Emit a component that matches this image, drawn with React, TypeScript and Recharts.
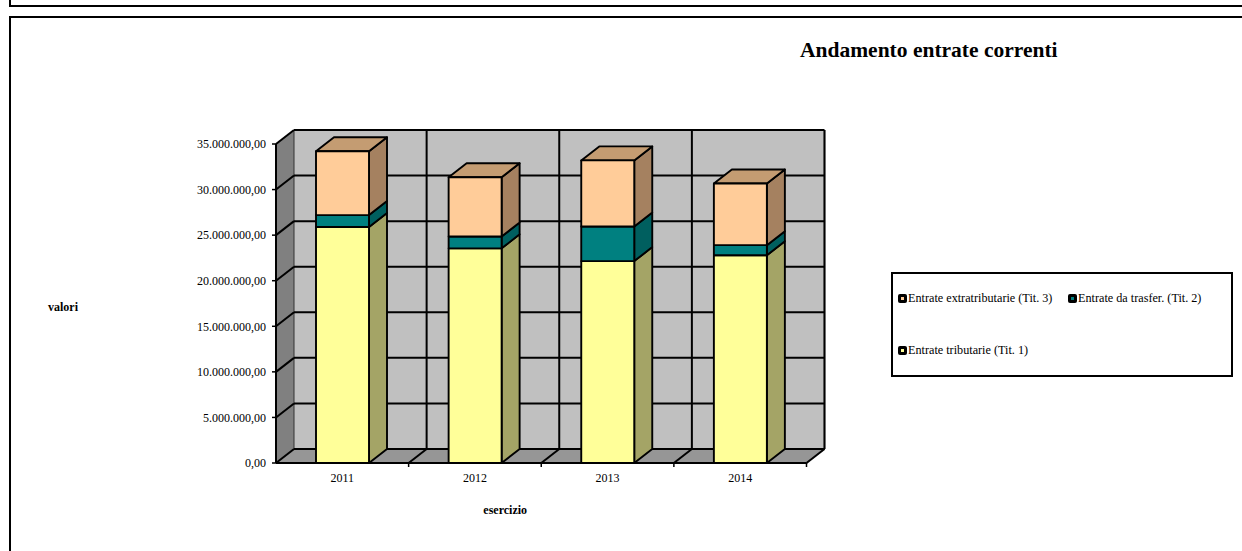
import { BarChart, Bar, XAxis, YAxis, CartesianGrid, Legend } from 'recharts';

const years = ['2011', '2012', '2013', '2014'];
const tributarie = [25900000, 23550000, 22150000, 22800000];
const trasferimenti = [1300000, 1300000, 3800000, 1100000];
const extratributarie = [7000000, 6500000, 7250000, 6770000];
const valueTicks = [0, 5000000, 10000000, 15000000, 20000000, 25000000, 30000000, 35000000];

const rows = years.map((year, i) => ({
    year,
    tributarie: tributarie[i],
    trasferimenti: trasferimenti[i],
    extratributarie: extratributarie[i],
}));

const FONT = '"Liberation Serif", serif';
// front plane of the plot, and the offset of the back plane from it
const PLOT = { left: 276, top: 144, right: 806.5, bottom: 463 };
const DX = 18;
const DY = -14;
const CHART_W = 1242;
const CHART_H = 551;

const formatValue = (v: number) =>
    v === 0 ? '0,00' : `${String(v).replace(/\B(?=(\d{3})+$)/g, '.')},00`;

// side and top faces of one stacked block
const block3d = (sideColor: string, topColor?: string) => (props: any) => {
    const { x, y, width, height, fill } = props;
    const r = x + width;
    return (
        <g stroke="#000" strokeWidth={1.9} strokeLinejoin="round">
            <polygon
                fill={sideColor}
                points={`${r},${y} ${r + DX},${y + DY} ${r + DX},${y + height + DY} ${r},${y + height}`}
            />
            {topColor && (
                <polygon
                    fill={topColor}
                    points={`${x},${y} ${x + DX},${y + DY} ${r + DX},${y + DY} ${r},${y}`}
                />
            )}
            <rect x={x} y={y} width={width} height={height} fill={fill} />
        </g>
    );
};

// back wall, left wall and floor; sits under the transparent chart surface
const Walls = () => {
    const { left: x, top: y, right: r, bottom: b } = PLOT;
    return (
        <svg width={CHART_W} height={CHART_H} style={{ position: 'absolute', left: 0, top: 0 }}>
            <rect x={x + DX} y={y + DY} width={r - x} height={b - y} fill="#c0c0c0" />
            <polygon fill="#808080" points={`${x},${y} ${x + DX},${y + DY} ${x + DX},${b + DY} ${x},${b}`} />
            <polygon fill="#969696" points={`${x},${b} ${x + DX},${b + DY} ${r + DX},${b + DY} ${r},${b}`} />
            <line x1={x + DX} y1={b + DY} x2={r + DX} y2={b + DY} stroke="#707070" strokeWidth={1} />
            <line x1={r + DX} y1={y + DY} x2={r + DX} y2={b + DY} stroke="#5a5a5a" strokeWidth={1.4} />
            <line x1={x + DX} y1={y + DY} x2={x + DX} y2={b + DY} stroke="#333" strokeWidth={1} />
        </svg>
    );
};

const horizontalLine = (p: any) => (
    <g key={`h-${p.y1}`} stroke="#000" strokeWidth={2}>
        <line x1={p.x1 + DX} y1={p.y1 + DY} x2={p.x2 + DX} y2={p.y2 + DY} />
        <line x1={p.x1} y1={p.y1} x2={p.x1 + DX} y2={p.y1 + DY} />
    </g>
);

const verticalLine = (p: any) => (
    <g key={`v-${p.x1}`} stroke="#000" strokeWidth={2}>
        <line x1={p.x1 + DX} y1={p.y1 + DY} x2={p.x2 + DX} y2={p.y2 + DY} />
        <line x1={p.x2} y1={p.y2} x2={p.x2 + DX} y2={p.y2 + DY} />
        <line x1={p.x2} y1={p.y2} x2={p.x2} y2={p.y2 + 4} strokeWidth={1.5} />
    </g>
);

// grid columns sit on the category boundaries, the last one closes the floor
const categoryEdges = ({ offset }: any) =>
    [...years, ''].map((_, i) => offset.left + (offset.width * i) / years.length).slice(1);

const legendColors: Record<string, string> = {
    extratributarie: '#FFCC99',
    trasferimenti: '#008080',
    tributarie: '#FFFF99',
};

const legendSlots = [
    { key: 'extratributarie', left: 5, top: 18, text: 'Entrate extratributarie (Tit. 3)' },
    { key: 'trasferimenti', left: 175, top: 18, text: 'Entrate da trasfer. (Tit. 2)' },
    { key: 'tributarie', left: 5, top: 70, text: 'Entrate tributarie (Tit. 1)' },
];

const LegendBox = () => (
    <div style={{ position: 'relative', width: 342, height: 105, boxSizing: 'border-box', border: '2px solid #000', background: '#fff', fontFamily: FONT, fontSize: 12.2, color: '#000' }}>
        {legendSlots.map((s) => (
            <div key={s.key} style={{ position: 'absolute', left: s.left, top: s.top, height: 12, display: 'flex', alignItems: 'center', whiteSpace: 'nowrap', lineHeight: '12px' }}>
                <span style={{ width: 9, height: 9, background: '#000', borderRadius: 2, display: 'inline-flex', alignItems: 'center', justifyContent: 'center', marginRight: 1 }}>
                    <span style={{ width: 3, height: 3, background: legendColors[s.key] }} />
                </span>
                {s.text}
            </div>
        ))}
    </div>
);

export default function App() {
    return (
        <div style={{ position: 'absolute', left: 0, top: 0, width: CHART_W, height: CHART_H, overflow: 'hidden', background: '#fff' }}>
            {/* report frames */}
            <div style={{ position: 'absolute', left: 9, top: -4, width: 1240, height: 11, boxSizing: 'border-box', border: '2px solid #000' }} />
            <div style={{ position: 'absolute', left: 9, top: 16, width: 1240, height: 540, boxSizing: 'border-box', border: '2px solid #000' }} />
            <Walls />
            <BarChart
                width={CHART_W}
                height={CHART_H}
                data={rows}
                barSize={53}
                margin={{ top: PLOT.top, right: CHART_W - PLOT.right, bottom: CHART_H - PLOT.bottom - 30, left: PLOT.left - 100 }}
                style={{ position: 'absolute', left: 0, top: 0 }}
            >
                <CartesianGrid
                    horizontal={horizontalLine}
                    vertical={verticalLine}
                    verticalCoordinatesGenerator={categoryEdges}
                    syncWithTicks={false}
                />
                <XAxis
                    dataKey="year"
                    height={30}
                    interval={0}
                    tickLine={false}
                    axisLine={{ stroke: '#000', strokeWidth: 2 }}
                    tick={{ fontFamily: FONT, fontSize: 12, fill: '#000' }}
                    tickMargin={4}
                    label={{ value: 'esercizio', position: 'insideBottom', offset: -21, dx: -36, fontFamily: FONT, fontSize: 12, fontWeight: 700, fill: '#000' }}
                />
                <YAxis
                    width={100}
                    domain={[0, 35000000]}
                    ticks={valueTicks}
                    tickFormatter={formatValue}
                    tickSize={4}
                    tickMargin={6}
                    tickLine={{ stroke: '#000', strokeWidth: 1.5 }}
                    axisLine={{ stroke: '#000', strokeWidth: 2 }}
                    tick={{ fontFamily: FONT, fontSize: 12, fill: '#000' }}
                    label={{ value: 'valori', position: 'insideLeft', dx: -133, dy: 3, fontFamily: FONT, fontSize: 12, fontWeight: 700, fill: '#000' }}
                />
                <Bar dataKey="tributarie" stackId="a" name="Entrate tributarie (Tit. 1)" fill="#FFFF99" shape={block3d('#A4A466')} isAnimationActive={false} />
                <Bar dataKey="trasferimenti" stackId="a" name="Entrate da trasfer. (Tit. 2)" fill="#008080" shape={block3d('#005F5F')} isAnimationActive={false} />
                <Bar dataKey="extratributarie" stackId="a" name="Entrate extratributarie (Tit. 3)" fill="#FFCC99" shape={block3d('#A58160', '#C49C72')} isAnimationActive={false} />
                <Legend
                    layout="vertical"
                    align="center"
                    verticalAlign="middle"
                    content={LegendBox}
                    wrapperStyle={{ left: 891, top: 272, width: 342, height: 105, position: 'absolute' }}
                />
                <text x={800} y={57} fontFamily={FONT} fontSize={21.5} fontWeight={700} fill="#000">
                    Andamento entrate correnti
                </text>
            </BarChart>
        </div>
    );
}
